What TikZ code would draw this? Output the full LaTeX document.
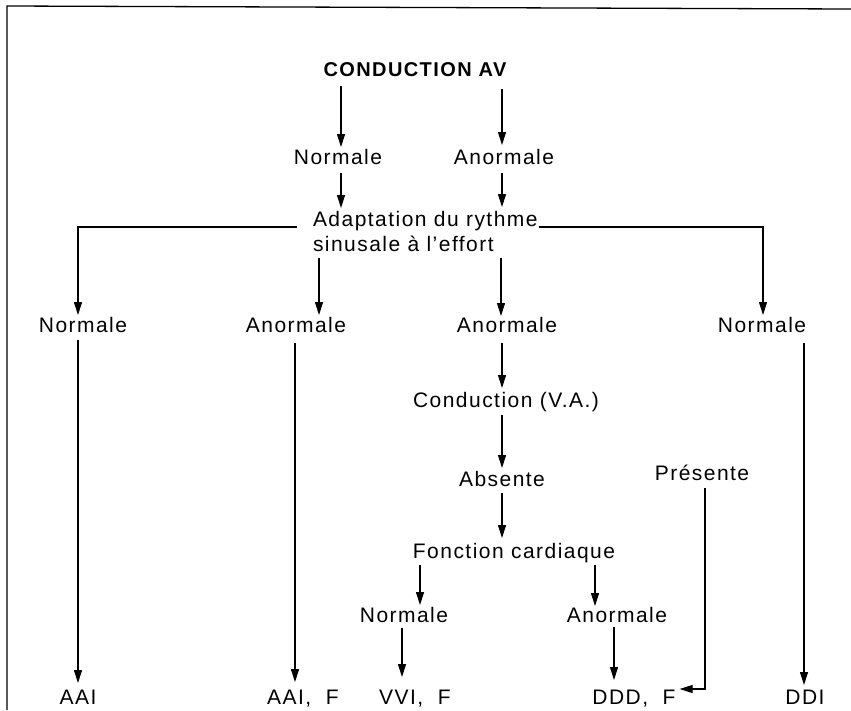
\documentclass[tikz,border=0pt]{standalone}
\usepackage{fontspec}
\setmainfont{Liberation Sans}[LetterSpace=7]
\newfontfamily\titlefont{Liberation Sans}[LetterSpace=7]
\usetikzlibrary{arrows.meta,calc}
\begin{document}
\begin{tikzpicture}[x=1pt,y=-1pt,
  lbl/.style={inner sep=0pt,outer sep=0pt,anchor=base,font=\fontsize{21}{25}\selectfont,text height=15pt,text depth=0pt},
  ttl/.style={inner sep=0pt,outer sep=0pt,anchor=base,font=\titlefont\bfseries\fontsize{20}{24}\selectfont,text height=14.3pt,text depth=0pt},
  arr/.style={-{Triangle[length=13pt,width=8pt]},line width=1.1pt},
  ln/.style={line width=1.1pt}]
\useasboundingbox (0,0) rectangle (851,710);
% frame (left and top only)
\coordinate (fa) at (7,710);
\coordinate (fb) at (7,6);
\coordinate (fc) at (851,9);
\draw[line width=1.3pt] (fa) -- (fb) -- (fc);
% x positions of connectors
\coordinate (a78) at (78,0);
\coordinate (a295) at (295,0);
\coordinate (a319) at (319,0);
\coordinate (a341) at (341,0);
\coordinate (a402) at (402,0);
\coordinate (a420) at (420,0);
\coordinate (a501) at (501,0);
\coordinate (a502) at (502,0);
\coordinate (a595) at (595,0);
\coordinate (a614) at (614,0);
\coordinate (a705) at (705,0);
\coordinate (a763) at (763,0);
\coordinate (a804) at (804,0);
% nodes
\node[ttl] (cav) at (415,76) {CONDUCTION AV};
\node[lbl] (n2a) at (338,164) {Normale};
\node[lbl] (n2b) at (504,164) {Anormale};
\node[lbl,anchor=base west] (adapt) at (313,226) {Adaptation du rythme};
\node[lbl,anchor=base west] (adapt2) at (313,251) {sinusale à l'effort};
\node[lbl] (n3a) at (83,332) {Normale};
\node[lbl] (n3b) at (296,332) {Anormale};
\node[lbl] (n3c) at (507,332) {Anormale};
\node[lbl] (n3d) at (762,332) {Normale};
\node[lbl] (cva) at (506,407) {Conduction (V.A.)};
\node[lbl] (abs) at (502,486) {Absente};
\node[lbl] (pres) at (702,480) {Présente};
\node[lbl] (fc) at (514,558) {Fonction cardiaque};
\node[lbl] (bn) at (404,622) {Normale};
\node[lbl] (ba) at (617,622) {Anormale};
\node[lbl] (b1) at (78,704) {AAI};
\node[lbl] (b2) at (303,704) {AAI,\ \ F};
\node[lbl] (b3) at (415,704) {VVI,\ \ F};
\node[lbl] (b4) at (634,704) {DDD,\ \ F};
\node[lbl] (b5) at (805,704) {DDI};
% connectors
\draw[arr,shorten <=10pt,shorten >=2pt] (cav.south -| a341) -- (n2a.north -| a341);
\draw[arr,shorten <=13pt,shorten >=4pt] (cav.south -| a502) -- (n2b.north -| a502);
\draw[arr,shorten <=9pt,shorten >=3pt] (n2a.south -| a341) -- (adapt.north -| a341);
\draw[arr,shorten <=9pt,shorten >=4pt] (n2b.south -| a502) -- (adapt.north -| a502);
\draw[arr] ([xshift=-16pt,yshift=-1pt]adapt.base west) -| ([yshift=2pt]n3a.north -| a78);
\draw[arr] ([xshift=1pt,yshift=-1pt]adapt.base east) -| ([yshift=2pt]n3d.north -| a763);
\draw[arr,shorten <=7pt,shorten >=2pt] (adapt2.south -| a319) -- (n3b.north -| a319);
\draw[arr,shorten <=7pt,shorten >=1pt] (adapt2.south -| a501) -- (n3c.north -| a501);
\draw[arr,shorten <=8pt,shorten >=6pt] (n3a.south -| a78) -- (b1.north -| a78);
\draw[arr,shorten <=11pt,shorten >=7pt] (n3b.south -| a295) -- (b2.north -| a295);
\draw[arr,shorten <=11pt,shorten >=4pt] (n3c.south -| a502) -- (cva.north -| a502);
\draw[arr,shorten <=8pt,shorten >=3pt] (cva.south -| a502) -- (abs.north -| a502);
\draw[arr,shorten <=7pt,shorten >=5pt] (abs.south -| a502) -- (fc.north -| a502);
\draw[arr,shorten <=7pt,shorten >=2pt] (fc.south -| a420) -- (bn.north -| a420);
\draw[arr,shorten <=7pt,shorten >=1pt] (fc.south -| a595) -- (ba.north -| a595);
\draw[arr,shorten <=6pt,shorten >=12pt] (bn.south -| a402) -- (b3.north -| a402);
\draw[arr,shorten <=5pt,shorten >=9pt] (ba.south -| a614) -- (b4.north -| a614);
\draw[arr,shorten <=8pt] (pres.south -| a705) |- ([xshift=4pt]b4.north east);
\draw[arr,shorten <=11pt,shorten >=4pt] (n3d.south -| a804) -- (b5.north -| a804);
\end{tikzpicture}
\end{document}
